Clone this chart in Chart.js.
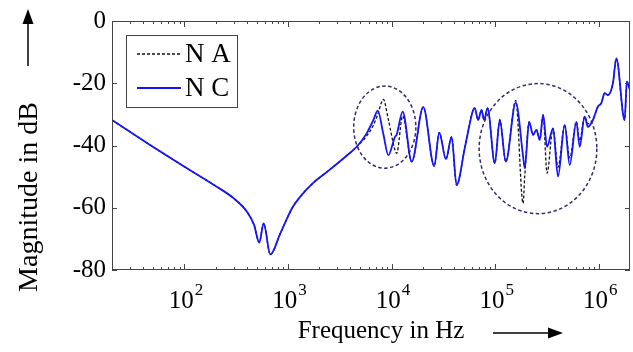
<!DOCTYPE html>
<html><head><meta charset="utf-8">
<script src="https://cdn.jsdelivr.net/npm/chart.js@4.4.0/dist/chart.umd.min.js"></script>
<style>html,body{margin:0;padding:0;background:#fff;}#wrap{width:633px;height:352px;}</style>
</head><body><div id="wrap"><canvas id="c" width="633" height="352"></canvas></div>
<script>
// Frequency points (Hz)
const frequencies = [20,50,100,200,300,400,470,528,582,675,843,1100,1300,1750,2500,3700,4600,
  5750,6670,7350,8320,9290,10780,11190,12790,15630,20200,25770,28830,33440,37930,42370,51000,
  61220,63550,68390,73770,78150,84330,99100,110700,126500,157900,185700,192700,212400,231900,
  250000,269200,289800,316500,361500,403800,468600,523600,607200,653400,729700,785400,877300,
  979700,1057000,1138000,1225000,1368000,1475000,1774000,1867000,2000000];
// Magnitude in dB, series "N A" (black dashed)
const seriesNA = [-31.8,-40.5,-46.8,-53.0,-57.0,-61.2,-65.5,-71.2,-65.0,-75.0,-68.2,-60.0,-56.6,-52.0,-47.9,-43.2,-40.4,
  -36.9,-33.5,-30.0,-25.2,-31.6,-41.5,-42.5,-30.5,-45.2,-27.7,-46.6,-35.9,-44.4,-37.2,-52.7,-40.6,
  -28.6,-28.0,-31.8,-28.6,-31.8,-28.0,-45.7,-31.8,-45.2,-25.5,-58.6,-50.0,-32.4,-36.6,
  -35.0,-38.2,-30.2,-48.9,-34.5,-47.0,-33.4,-44.0,-32.4,-38.5,-30.7,-33.0,-31.8,
  -27.5,-26.4,-23.2,-23.8,-20.0,-12.0,-31.8,-19.5,-22.2];
// Magnitude in dB, series "N C" (blue solid)
const seriesNC = [-31.8,-40.5,-46.8,-53.0,-57.0,-61.2,-65.5,-71.2,-65.0,-75.0,-68.2,-60.0,-56.6,-52.0,-47.9,-43.2,-40.4,
  -36.1,-31.8,-28.8,-36.3,-43.1,-37.2,-36.5,-29.1,-45.2,-27.7,-46.6,-35.9,-44.4,-37.2,-52.7,-40.6,
  -28.6,-28.0,-31.8,-28.6,-31.8,-28.0,-45.7,-31.8,-45.2,-26.2,-43.4,-47.3,-32.4,-36.6,
  -35.0,-38.2,-30.2,-40.4,-34.5,-50.0,-33.4,-46.3,-32.4,-40.4,-30.7,-34.0,-31.8,
  -27.5,-26.4,-23.2,-23.8,-20.0,-12.0,-31.8,-19.5,-22.2];
const seriesNames = ['N A', 'N C'];
const yTickValues = [0, -20, -40, -60, -80];
const xDecadeExponents = [2, 3, 4, 5, 6];
const xTitle = 'Frequency in Hz';
const yTitle = 'Magnitude in dB';
// highlighted regions: centre (Hz, dB), half-width in decades, half-height in dB
const highlightRegions = [
  {f: 8590, db: -34.1, decades: 0.30, dbRadius: 13.2},
  {f: 258800, db: -41.0, decades: 0.568, dbRadius: 20.9}
];

const FONT = '"Liberation Serif", "Times New Roman", serif';

const decor = {
  id: 'decor',
  afterDatasetsDraw(chart) {
    const ctx = chart.ctx, a = chart.chartArea;
    const xs = chart.scales.x, ys = chart.scales.y;
    ctx.save();
    // highlight ellipses
    ctx.strokeStyle = '#3b2670'; ctx.lineWidth = 1.5; ctx.setLineDash([3.5, 2.5]);
    highlightRegions.forEach(r => {
      const cx = xs.getPixelForValue(r.f), cy = ys.getPixelForValue(r.db);
      const rx = xs.getPixelForValue(r.f * Math.pow(10, r.decades)) - cx;
      const ry = ys.getPixelForValue(r.db - r.dbRadius) - cy;
      ctx.beginPath(); ctx.ellipse(cx, cy, rx, ry, 0, 0, Math.PI * 2); ctx.stroke();
    });
    ctx.setLineDash([]);
    // frame
    ctx.strokeStyle = '#444'; ctx.lineWidth = 1;
    ctx.strokeRect(a.left + 0.5, a.top + 0.5, a.right - a.left - 1, a.bottom - a.top - 1);
    // x ticks (inward, top & bottom)
    for (let d = 1; d <= 6; d++) {
      for (let m = 1; m <= 9; m++) {
        const v = m * Math.pow(10, d);
        if (v <= 20 || v >= 2e6) continue;
        const px = Math.round(xs.getPixelForValue(v)) + 0.5;
        const len = m === 1 ? 6 : 3;
        ctx.beginPath();
        ctx.moveTo(px, a.bottom); ctx.lineTo(px, a.bottom - len);
        ctx.moveTo(px, a.top); ctx.lineTo(px, a.top + len);
        ctx.stroke();
      }
    }
    // y ticks
    yTickValues.forEach(v => {
      const py = Math.round(ys.getPixelForValue(v)) + 0.5;
      ctx.beginPath();
      ctx.moveTo(a.left, py); ctx.lineTo(a.left + 5, py);
      ctx.moveTo(a.right, py); ctx.lineTo(a.right - 5, py);
      ctx.stroke();
    });
    // x tick labels 10^n
    ctx.fillStyle = '#000'; ctx.textBaseline = 'alphabetic';
    xDecadeExponents.forEach(e => {
      const px = xs.getPixelForValue(Math.pow(10, e));
      ctx.font = '25px ' + FONT;
      const wb = ctx.measureText('10').width;
      ctx.font = '17px ' + FONT;
      const we = ctx.measureText(String(e)).width;
      const x0 = px - (wb + we) / 2 + 1;
      ctx.font = '25px ' + FONT; ctx.textAlign = 'left';
      ctx.fillText('10', x0, 308);
      ctx.font = '17px ' + FONT;
      ctx.fillText(String(e), x0 + wb + 1, 295);
    });
    // axis titles
    ctx.font = '25px ' + FONT; ctx.textAlign = 'center'; ctx.textBaseline = 'middle';
    ctx.fillText(xTitle, 381, 331);
    ctx.save(); ctx.translate(30, 197); ctx.rotate(-Math.PI / 2);
    ctx.font = '28px ' + FONT;
    ctx.fillText(yTitle, 0, 0); ctx.restore();
    // arrows
    ctx.strokeStyle = '#000'; ctx.lineWidth = 1.5;
    ctx.beginPath(); ctx.moveTo(493, 333); ctx.lineTo(552, 333); ctx.stroke();
    ctx.beginPath(); ctx.moveTo(563, 333); ctx.lineTo(548, 327.5); ctx.lineTo(548, 338.5); ctx.closePath(); ctx.fill();
    ctx.beginPath(); ctx.moveTo(28, 66); ctx.lineTo(28, 20); ctx.stroke();
    ctx.beginPath(); ctx.moveTo(28, 9); ctx.lineTo(22.5, 24); ctx.lineTo(33.5, 24); ctx.closePath(); ctx.fill();
    // legend
    const lx = a.left + 14, ly = a.top + 14;
    ctx.fillStyle = '#fff'; ctx.fillRect(lx, ly, 112, 73);
    ctx.strokeStyle = '#444'; ctx.lineWidth = 1;
    ctx.strokeRect(lx + 0.5, ly + 0.5, 111, 72);
    const ds = chart.data.datasets;
    [0, 1].forEach(i => {
      const yy = ly + 19 + i * 34;
      ctx.strokeStyle = ds[i].borderColor; ctx.lineWidth = ds[i].borderWidth;
      ctx.setLineDash(ds[i].borderDash || []);
      ctx.beginPath(); ctx.moveTo(lx + 11, yy); ctx.lineTo(lx + 55, yy); ctx.stroke();
      ctx.setLineDash([]);
      ctx.fillStyle = '#000'; ctx.font = '27px ' + FONT; ctx.textAlign = 'left'; ctx.textBaseline = 'middle';
      ctx.fillText(ds[i].label, lx + 59, yy + 1);
    });
    ctx.restore();
  }
};

new Chart(document.getElementById('c'), {
  type: 'line',
  data: {
    datasets: [
      {label: seriesNames[0], data: frequencies.map((f, i) => ({x: f, y: seriesNA[i]})),
       borderColor: '#111', borderWidth: 1.3, borderDash: [3, 2], pointRadius: 0,
       cubicInterpolationMode: 'monotone', fill: false, order: 1},
      {label: seriesNames[1], data: frequencies.map((f, i) => ({x: f, y: seriesNC[i]})),
       borderColor: '#1414ff', borderWidth: 1.8, pointRadius: 0,
       cubicInterpolationMode: 'monotone', fill: false, order: 0}
    ]
  },
  options: {
    responsive: false, animation: false, devicePixelRatio: 1,
    layout: {padding: {left: 0, top: 21, right: 3, bottom: 0}},
    plugins: {legend: {display: false}, tooltip: {enabled: false}},
    scales: {
      x: {type: 'logarithmic', min: 20, max: 2e6,
          grid: {display: false, drawTicks: false}, border: {display: false},
          ticks: {display: false},
          afterFit: s => { s.height = 82; }},
      y: {type: 'linear', min: -80, max: 0,
          grid: {display: false, drawTicks: false}, border: {display: false},
          ticks: {stepSize: 20, padding: 6, color: '#000', font: {family: FONT, size: 25},
                  callback: v => yTickValues.includes(v) ? String(v) : ''},
          afterFit: s => { s.width = 112; }}
    }
  },
  plugins: [decor]
});
</script></body></html>
